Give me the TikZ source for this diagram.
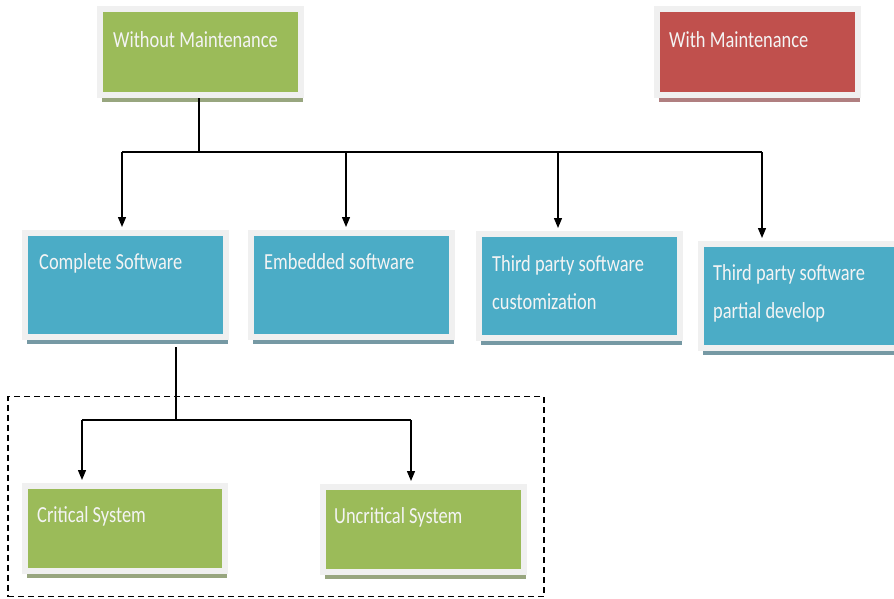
\documentclass[tikz,border=0pt]{standalone}
\usepackage{fontspec}
\newfontfamily\boxfont[FakeStretch=0.8]{Carlito}
\usetikzlibrary{shadows,arrows.meta,calc}
\definecolor{gfill}{HTML}{9BBB59}
\definecolor{rfill}{HTML}{C0504D}
\definecolor{bfill}{HTML}{4BACC6}
\definecolor{gshade}{HTML}{98A67F}
\definecolor{rshade}{HTML}{B07F80}
\definecolor{bshade}{HTML}{7699A4}
\definecolor{framegray}{HTML}{F0F0F0}
\definecolor{txtwhite}{HTML}{F4F4F4}
\begin{document}
\begin{tikzpicture}[x=1pt,y=-1pt,
  box/.style={draw=framegray, line width=6pt, inner sep=0pt,
    minimum width=201pt, minimum height=86pt},
  greenbox/.style={box, fill=gfill,
    general shadow={fill=gshade, shadow xshift=2pt, shadow yshift=-7pt}},
  redbox/.style={box, fill=rfill,
    general shadow={fill=rshade, shadow xshift=2pt, shadow yshift=-7pt}},
  bluebox/.style={box, fill=bfill, minimum height=104pt,
    general shadow={fill=bshade, shadow xshift=2pt, shadow yshift=-7pt}},
  txt/.style={anchor=base west, inner sep=0pt, text=txtwhite,
    font=\boxfont\fontsize{23}{27}\selectfont},
  conn/.style={line width=1.3pt, black},
  arr/.style={conn, -{Triangle[length=10pt,width=8pt]}, shorten >=3pt},
  grp/.style={draw, line width=1.2pt, dash pattern=on 6pt off 4pt, inner sep=0pt}
]
\useasboundingbox (0,0) rectangle (894,598);

% group frame around the two system boxes
\node[grp, minimum width=536pt, minimum height=200pt] (grp) at (276,496.5) {};

% top level
\node[greenbox] (wm) at (200.5,52) {};
\node[redbox] (withm) at (757.5,52) {};

% software kinds
\node[bluebox] (cs) at (125.5,285) {};
\node[bluebox] (es) at (351.5,285) {};
\node[bluebox] (tpc) at (579.5,286) {};
\node[bluebox] (tpp) at (801.5,296) {};

% system kinds
\node[greenbox, minimum width=200pt, minimum height=85pt] (crit) at (125,528.5) {};
\node[greenbox, minimum width=201pt, minimum height=85pt] (uncrit) at (423.5,529.5) {};

% labels
\node[txt] (wm-t) at ($(wm.north west)+(16,41)$) {Without Maintenance};
\node[txt] (withm-t) at ($(withm.north west)+(15,41)$) {With Maintenance};
\node[txt] (cs-t) at ($(cs.north west)+(17,39)$) {Complete Software};
\node[txt] (es-t) at ($(es.north west)+(16,39)$) {Embedded software};
\node[txt] (tpc-t1) at ($(tpc.north west)+(16,40)$) {Third party software};
\node[txt] (tpc-t2) at ($(tpc.north west)+(16,78)$) {customization};
\node[txt] (tpp-t1) at ($(tpp.north west)+(15,39)$) {Third party software};
\node[txt] (tpp-t2) at ($(tpp.north west)+(15,77)$) {partial develop};
\node[txt] (crit-t) at ($(crit.north west)+(15,39)$) {Critical System};
\node[txt] (uncrit-t) at ($(uncrit.north west)+(14,39)$) {Uncritical System};

% first level connectors
\coordinate (busL) at (122,152);
\coordinate (busR) at (762,152);
\draw[conn] (wm.south -| 199,0) -- (busL -| 199,0);
\draw[conn] (busL) -- (busR);
\draw[arr] (busL) -- (busL |- cs.north);
\draw[arr] (busL -| 346,0) -- (cs.north -| 346,0);
\draw[arr] (busL -| 558,0) -- (tpc.north -| 558,0);
\draw[arr] (busR) -- (busR |- tpp.north);

% second level connectors
\coordinate (sbusL) at (82,420);
\coordinate (sbusR) at (411,420);
\draw[conn] ($(cs.south -| 176,0)+(0,7)$) -- (sbusL -| 176,0);
\draw[conn] (sbusL) -- (sbusR);
\draw[arr] (sbusL) -- (sbusL |- crit.north);
\draw[arr] (sbusR) -- (sbusR |- uncrit.north);
\end{tikzpicture}
\end{document}
